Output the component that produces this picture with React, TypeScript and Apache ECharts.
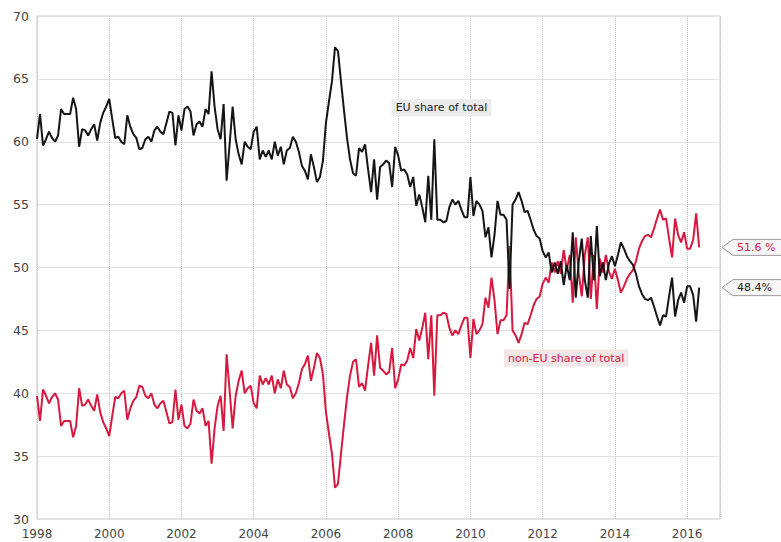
import React, { useEffect, useRef } from "react";
import * as echarts from "echarts";

const START_YEAR = 1998;
const X_MIN = 1998;
const X_MAX = 2016.91;

// EU share of total (%), monthly from Jan 1998
const EU_SHARE = [
  60.2, 62.2, 59.7, 60.2, 60.8, 60.3, 60.0, 60.5, 62.6, 62.2, 62.2, 62.2,
  63.5, 62.6, 59.6, 61.0, 60.9, 60.5, 61.0, 61.4, 60.1, 61.5, 62.3, 62.8,
  63.4, 61.8, 60.3, 60.4, 60.0, 59.8, 62.1, 61.2, 60.6, 60.3, 59.4, 59.5,
  60.2, 60.4, 60.0, 60.9, 61.2, 60.8, 60.6, 61.5, 62.4, 62.3, 59.7, 62.1,
  60.9, 62.6, 62.8, 62.4, 60.5, 61.4, 61.6, 61.2, 62.6, 62.2, 65.6, 62.8,
  61.0, 60.2, 63.0, 56.9, 59.8, 62.8, 60.2, 59.0, 58.2, 60.0, 59.6, 59.4,
  60.8, 61.2, 58.6, 59.3, 58.8, 59.3, 58.6, 60.0, 58.9, 59.6, 58.2, 59.3,
  59.5, 60.4, 60.0, 59.2, 58.1, 57.7, 57.0, 59.0, 58.0, 56.8, 57.2, 58.5,
  61.5, 63.2, 64.8, 67.5, 67.2, 64.8, 62.5, 60.3, 58.6, 57.5, 57.3, 59.5,
  59.2, 59.8, 57.8, 56.0, 58.6, 55.4, 58.0, 58.2, 58.5, 58.3, 56.4, 59.6,
  58.9, 57.7, 57.8, 57.4, 56.4, 57.2, 54.9, 55.8, 54.8, 53.6, 57.3, 53.8,
  60.2, 53.8, 53.8, 53.6, 53.7, 54.8, 55.4, 55.0, 55.3, 54.6, 54.0, 54.0,
  57.2, 54.1, 55.3, 55.0, 54.5, 52.4, 53.2, 50.8, 52.6, 55.3, 54.2, 54.2,
  53.8, 48.3, 55.0, 55.4, 56.0, 55.3, 54.4, 54.5, 53.8, 53.0, 52.5, 52.3,
  51.3, 50.8, 51.2, 49.6, 50.4, 49.5, 50.5, 48.6, 50.2, 49.0, 52.8, 47.6,
  50.5, 52.3, 49.0, 47.6, 52.5, 49.0, 53.3, 49.3, 50.4, 49.0, 50.3, 50.9,
  50.1, 51.0, 52.0, 51.5, 50.9, 50.5, 50.2, 49.5, 48.5, 47.9, 47.5, 47.4,
  47.6, 46.9, 46.1, 45.4, 46.2, 46.1, 47.7, 49.2, 46.1, 47.4, 48.0, 47.2,
  48.5, 48.5, 47.8, 45.7, 48.4,
];

// non-EU share of total (%), monthly from Jan 1998
const NON_EU_SHARE = [
  39.8, 37.8, 40.3, 39.8, 39.2, 39.7, 40.0, 39.5, 37.4, 37.8, 37.8, 37.8,
  36.5, 37.4, 40.4, 39.0, 39.1, 39.5, 39.0, 38.6, 39.9, 38.5, 37.7, 37.2,
  36.6, 38.2, 39.7, 39.6, 40.0, 40.2, 37.9, 38.8, 39.4, 39.7, 40.6, 40.5,
  39.8, 39.6, 40.0, 39.1, 38.8, 39.2, 39.4, 38.5, 37.6, 37.7, 40.3, 37.9,
  39.1, 37.4, 37.2, 37.6, 39.5, 38.6, 38.4, 38.8, 37.4, 37.8, 34.4, 37.2,
  39.0, 39.8, 37.0, 43.1, 40.2, 37.2, 39.8, 41.0, 41.8, 40.0, 40.4, 40.6,
  39.2, 38.8, 41.4, 40.7, 41.2, 40.7, 41.4, 40.0, 41.1, 40.4, 41.8, 40.7,
  40.5, 39.6, 40.0, 40.8, 41.9, 42.3, 43.0, 41.0, 42.0, 43.2, 42.8, 41.5,
  38.5, 36.8, 35.2, 32.5, 32.8, 35.2, 37.5, 39.7, 41.4, 42.5, 42.7, 40.5,
  40.8, 40.2, 42.2, 44.0, 41.4, 44.6, 42.0, 41.8, 41.5, 41.7, 43.6, 40.4,
  41.1, 42.3, 42.2, 42.6, 43.6, 42.8, 45.1, 44.2, 45.2, 46.4, 42.7, 46.2,
  39.8, 46.2, 46.2, 46.4, 46.3, 45.2, 44.6, 45.0, 44.7, 45.4, 46.0, 46.0,
  42.8, 45.9, 44.7, 45.0, 45.5, 47.6, 46.8, 49.2, 47.4, 44.7, 45.8, 45.8,
  46.2, 51.7, 45.0, 44.6, 44.0, 44.7, 45.6, 45.5, 46.2, 47.0, 47.5, 47.7,
  48.7, 49.2, 48.8, 50.4, 49.6, 50.5, 49.5, 51.4, 49.8, 51.0, 47.2, 52.4,
  49.5, 47.7, 51.0, 52.4, 47.5, 51.0, 46.7, 50.7, 49.6, 51.0, 49.7, 49.1,
  49.9, 49.0, 48.0, 48.5, 49.1, 49.5, 49.8, 50.5, 51.5, 52.1, 52.5, 52.6,
  52.4, 53.1, 53.9, 54.6, 53.8, 53.9, 52.3, 50.8, 53.9, 52.6, 52.0, 52.8,
  51.5, 51.5, 52.2, 54.3, 51.6,
];

const EU_LABEL = "EU share of total";
const NON_EU_LABEL = "non-EU share of total";
const EU_LABEL_AT = [2009.2, 62.7];
const NON_EU_LABEL_AT = [2012.65, 42.8];
const EU_END_TEXT = "48.4%";
const NON_EU_END_TEXT = "51.6 %";

const RED = "#d7193f";
const BLACK = "#151515";
const FONT = "DejaVu Sans, Liberation Sans, sans-serif";

export default function App() {
  const ref = useRef<HTMLDivElement>(null);

  useEffect(() => {
    if (!ref.current) return;
    const chart = echarts.init(ref.current, undefined, { renderer: "svg" });
    const toData = (arr: number[]) => arr.map((v, i) => [START_YEAR + i / 12, v]);

    chart.setOption({
      animation: false,
      backgroundColor: "#ffffff",
      grid: {
        left: 37,
        right: 61,
        top: 16,
        bottom: 23,
        show: true,
        borderColor: "#c8c8c8",
        borderWidth: 1,
      },
      xAxis: {
        type: "value",
        min: X_MIN,
        max: X_MAX,
        interval: 2,
        axisLine: { show: false },
        axisTick: { show: false },
        axisLabel: {
          color: "#444",
          fontFamily: FONT,
          fontSize: 12,
          margin: 9,
          formatter: (v: number) => (v % 2 === 0 ? String(v) : ""),
        },
        splitLine: { show: true, lineStyle: { color: "#c4c4c4", type: "dotted", width: 1 } },
      },
      yAxis: {
        type: "value",
        min: 30,
        max: 70,
        interval: 5,
        axisLine: { show: false },
        axisTick: { show: false },
        axisLabel: { color: "#444", fontFamily: FONT, fontSize: 12.5, margin: 8 },
        splitLine: { show: true, lineStyle: { color: "#e2e2e2", width: 1 } },
      },
      series: [
        {
          name: "EU share of total",
          type: "line",
          data: toData(EU_SHARE),
          showSymbol: false,
          lineStyle: { color: BLACK, width: 2 },
          itemStyle: { color: BLACK },
          z: 3,
        },
        {
          name: "non-EU share of total",
          type: "line",
          data: toData(NON_EU_SHARE),
          showSymbol: false,
          lineStyle: { color: RED, width: 2 },
          itemStyle: { color: RED },
          z: 2,
        },
      ],
    });

    const last = EU_SHARE.length - 1;
    const tipX = (chart.convertToPixel({ xAxisIndex: 0 }, X_MAX) as number) + 2;
    const yEU = chart.convertToPixel({ yAxisIndex: 0 }, EU_SHARE[last]) as number;
    const yNon = chart.convertToPixel({ yAxisIndex: 0 }, NON_EU_SHARE[last]) as number;
    const pEU = chart.convertToPixel({ gridIndex: 0 }, EU_LABEL_AT) as number[];
    const pNon = chart.convertToPixel({ gridIndex: 0 }, NON_EU_LABEL_AT) as number[];

    const endTag = (y: number, text: string, color: string) => ({
      type: "group",
      x: tipX,
      y: y,
      children: [
        {
          type: "polygon",
          shape: { points: [[0, 0], [11, -8], [64, -8], [64, 8], [11, 8]] },
          style: { fill: "#f7f7f7", stroke: "#9a9a9a", lineWidth: 1 },
        },
        {
          type: "text",
          x: 15,
          y: 0,
          style: {
            text,
            fill: color,
            font: `11px ${FONT}`,
            verticalAlign: "middle",
          },
        },
      ],
    });

    chart.setOption({
      graphic: [
        {
          type: "text",
          x: pEU[0],
          y: pEU[1],
          style: {
            text: EU_LABEL,
            fill: "#222",
            font: `11px ${FONT}`,
            align: "center",
            verticalAlign: "middle",
            backgroundColor: "#ececec",
            padding: [3, 4],
          },
          z: 10,
        },
        {
          type: "text",
          x: pNon[0],
          y: pNon[1],
          style: {
            text: NON_EU_LABEL,
            fill: RED,
            font: `11px ${FONT}`,
            align: "center",
            verticalAlign: "middle",
            backgroundColor: "#f1e6e8",
            padding: [3, 4],
          },
          z: 10,
        },
        endTag(yNon, NON_EU_END_TEXT, RED),
        endTag(yEU, EU_END_TEXT, "#222"),
      ],
    });

    return () => chart.dispose();
  }, []);

  return (
    <div
      ref={ref}
      style={{ position: "fixed", left: 0, top: 0, width: 781, height: 542 }}
    />
  );
}
